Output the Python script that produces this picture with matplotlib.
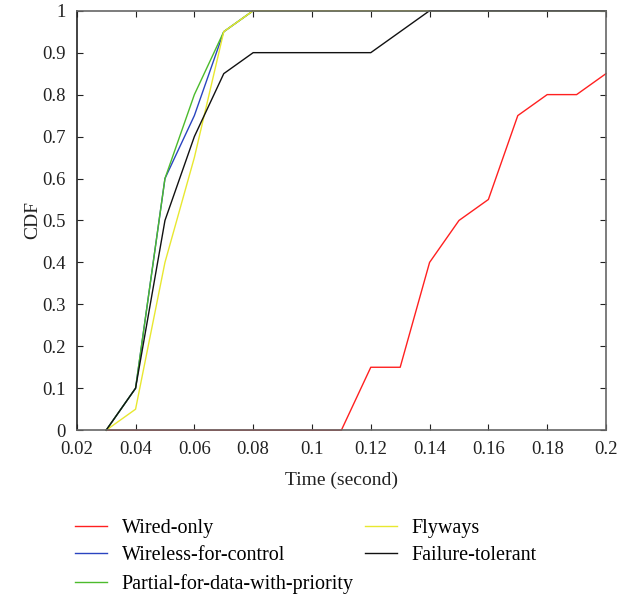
import matplotlib
matplotlib.use("Agg")
import matplotlib.pyplot as plt

plt.rcParams['font.family'] = ['Liberation Serif', 'DejaVu Serif']

t = [0.03, 0.04, 0.05, 0.06, 0.07, 0.08, 0.09, 0.10, 0.11,
     0.12, 0.13, 0.14, 0.15, 0.16, 0.17, 0.18, 0.19, 0.20]
wired_only = [0, 0, 0, 0, 0, 0, 0, 0, 0,
              0.15, 0.15, 0.4, 0.5, 0.55, 0.75, 0.8, 0.8, 0.85]
wireless_ctrl = [0, 0.1, 0.6, 0.75, 0.95, 1, 1, 1, 1, 1, 1, 1, 1, 1, 1, 1, 1, 1]
partial_prio = [0, 0.1, 0.6, 0.8, 0.95, 1, 1, 1, 1, 1, 1, 1, 1, 1, 1, 1, 1, 1]
flyways = [0, 0.05, 0.4, 0.65, 0.95, 1, 1, 1, 1, 1, 1, 1, 1, 1, 1, 1, 1, 1]
failure_tol = [0, 0.1, 0.5, 0.7, 0.85, 0.9, 0.9, 0.9, 0.9, 0.9, 0.95, 1, 1, 1, 1, 1, 1, 1]

xt = [0.02, 0.04, 0.06, 0.08, 0.1, 0.12, 0.14, 0.16, 0.18, 0.2]
xt_labels = ['0.02', '0.04', '0.06', '0.08', '0.1', '0.12', '0.14', '0.16', '0.18', '0.2']
yt = [0, 0.1, 0.2, 0.3, 0.4, 0.5, 0.6, 0.7, 0.8, 0.9, 1]
yt_labels = ['0', '0.1', '0.2', '0.3', '0.4', '0.5', '0.6', '0.7', '0.8', '0.9', '1']

fig = plt.figure(figsize=(6.19, 5.95), dpi=100)
ax = fig.add_axes([0.124, 0.277, 0.855, 0.705])

l1, = ax.plot(t, wired_only, color='#ff2020', lw=1.0, label='Wired-only', clip_on=False)
l2, = ax.plot(t, wireless_ctrl, color='#2a44c0', lw=1.0, label='Wireless-for-control', clip_on=False)
l3, = ax.plot(t, partial_prio, color='#4cbb2c', lw=1.0, label='Partial-for-data-with-priority', clip_on=False)
l4, = ax.plot(t, flyways, color='#e8e830', lw=1.0, label='Flyways', clip_on=False)
l5, = ax.plot(t, failure_tol, color='#111111', lw=1.0, label='Failure-tolerant', clip_on=False)

ax.set_xlim(0.02, 0.2)
ax.set_ylim(0, 1)
ax.set_xticks(xt)
ax.set_xticklabels(xt_labels)
ax.set_yticks(yt)
ax.set_yticklabels(yt_labels)
ax.tick_params(direction='in', top=True, right=True, labelsize=13.5, length=4,
               colors='#222222', pad=8)
for s in ax.spines.values():
    s.set_color('#666666')
    s.set_linewidth(1.2)
ax.spines['left'].set_color('#222222')

ax.set_xlabel('Time (second)', fontsize=14, color='#222222', labelpad=10)
ax.set_ylabel('CDF', fontsize=14, color='#222222')
ax.yaxis.set_label_coords(-0.068, 0.5)

fig.legend(handles=[l1, l2, l3, l4, l5], loc='upper left', bbox_to_anchor=(0.121, 0.128),
           ncol=2, frameon=False, fontsize=14.5, handlelength=1.6, columnspacing=0.55,
           labelspacing=0.42, handletextpad=0.72, borderpad=0, borderaxespad=0)

fig.savefig('out.png', dpi=100)
